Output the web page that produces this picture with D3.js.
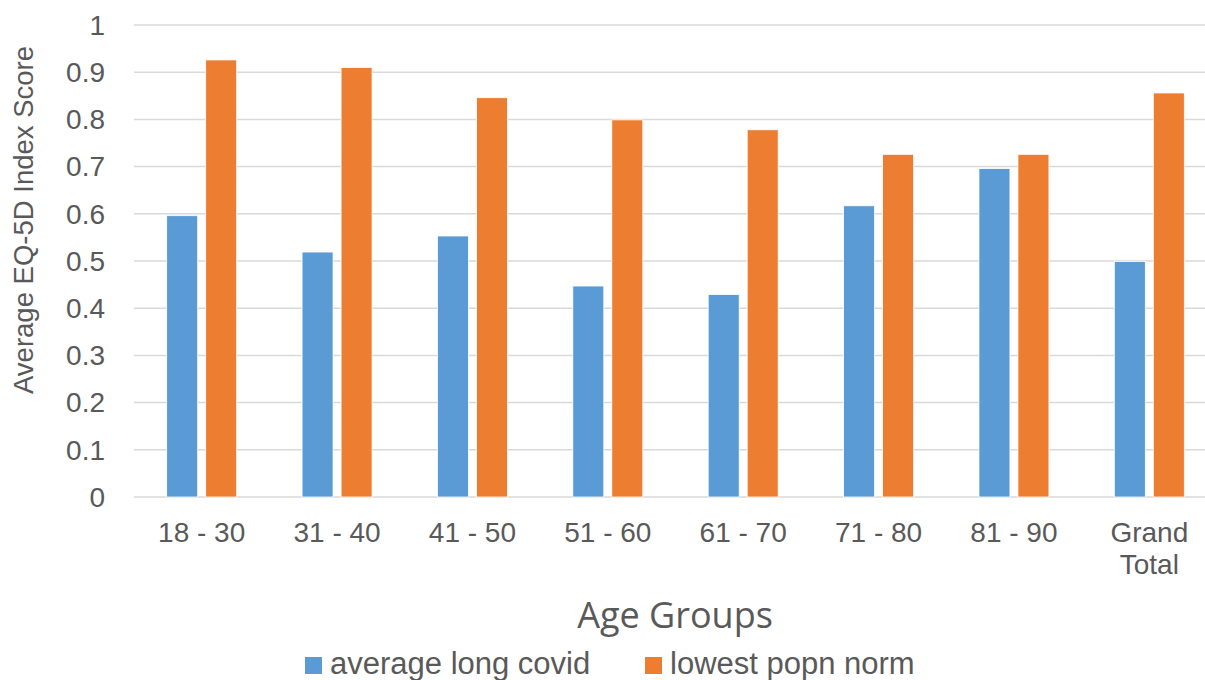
<!DOCTYPE html>
<html><head><meta charset="utf-8">
<script src="https://cdn.jsdelivr.net/npm/d3@7/dist/d3.min.js"></script>
<style>body{margin:0;background:#fff}svg{display:block}</style>
</head><body><svg id="c" width="1205" height="680"></svg>
<script>
const categories = ["18 - 30","31 - 40","41 - 50","51 - 60","61 - 70","71 - 80","81 - 90","Grand Total"];
const seriesNames = ["average long covid","lowest popn norm"];
const longCovid = [0.596,0.519,0.553,0.447,0.429,0.617,0.696,0.499];
const popnNorm  = [0.926,0.910,0.846,0.799,0.778,0.726,0.726,0.856];
const yTicks = [0,0.1,0.2,0.3,0.4,0.5,0.6,0.7,0.8,0.9,1];
const colors = ["#5b9bd5","#ed7d31"];

const svg = d3.select("#c");
const font = "'Liberation Sans', Arial, sans-serif";
const y = d3.scaleLinear().domain([0,1]).range([497,25]);
const x = d3.scaleBand().domain(categories).range([134,1217]).paddingInner(0).paddingOuter(0);

// gridlines
svg.append("g").selectAll("line").data(yTicks).join("line")
  .attr("x1",134).attr("x2",1217)
  .attr("y1",d=>y(d)).attr("y2",d=>y(d))
  .attr("stroke","#d9d9d9").attr("stroke-width",1.5);

// y tick labels
svg.append("g").selectAll("text").data(yTicks).join("text")
  .attr("x",105).attr("y",d=>y(d)).attr("dy","0.35em")
  .attr("text-anchor","end").style("font-family",font).attr("font-size",28).attr("fill","#595959")
  .text(d=>d3.format("")(d));

const series = [longCovid, popnNorm];
const bw = 31, gap = 8;
series.forEach((vals,si)=>{
  svg.append("g").selectAll("rect").data(vals).join("rect")
    .attr("x",(d,i)=>x(categories[i]) + x.bandwidth()/2 - (bw + gap/2) + si*(bw+gap))
    .attr("width",bw)
    .attr("y",d=>y(d)).attr("height",d=>y(0)-y(d))
    .attr("fill",colors[si]).attr("stroke","#fff").attr("stroke-width",0.8);
});

// x labels
const xl = svg.append("g");
categories.forEach(c=>{
  const cx = x(c)+x.bandwidth()/2;
  const parts = c==="Grand Total" ? ["Grand","Total"] : [c];
  parts.forEach((p,k)=>{
    xl.append("text").attr("x",cx).attr("y",532+k*32).attr("dy","0.35em")
      .attr("text-anchor","middle").style("font-family",font).attr("font-size",28).attr("fill","#595959").text(p);
  });
});

// axis titles
svg.append("text").attr("transform","translate(33,220) rotate(-90)")
  .attr("text-anchor","middle").style("font-family",font).attr("font-size",27.5).attr("fill","#595959")
  .text("Average EQ-5D Index Score");
svg.append("text").attr("x",675).attr("y",628)
  .attr("text-anchor","middle").style("font-family","'Open Sans', sans-serif").attr("font-size",36).attr("fill","#595959")
  .text("Age Groups");

// legend
const leg = [{x:305,name:seriesNames[0],c:colors[0]},{x:645,name:seriesNames[1],c:colors[1]}];
leg.forEach(l=>{
  svg.append("rect").attr("x",l.x).attr("y",657).attr("width",17).attr("height",17).attr("fill",l.c);
  svg.append("text").attr("x",l.x+25).attr("y",674)
    .style("font-family",font).attr("font-size",31).attr("fill","#595959").text(l.name);
});
</script></body></html>
